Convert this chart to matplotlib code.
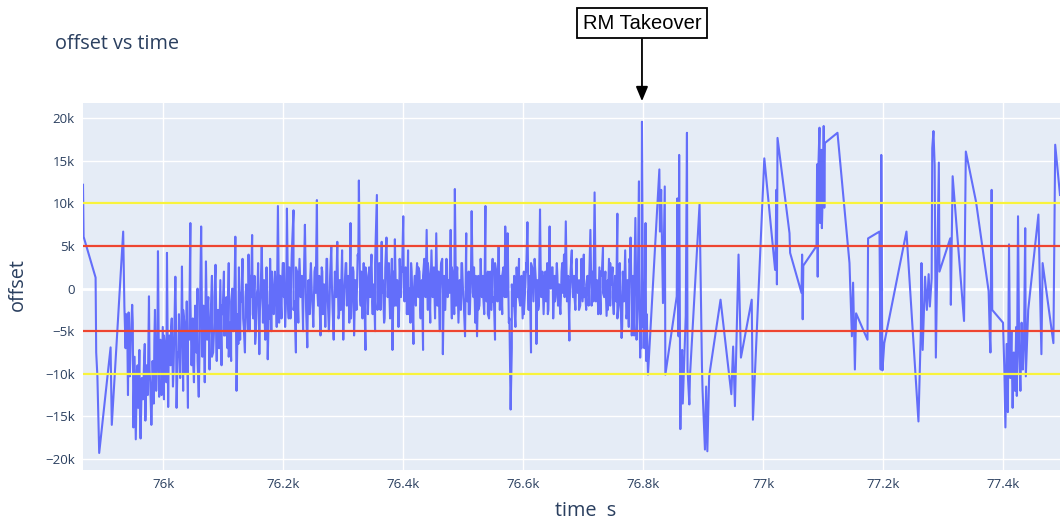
import numpy as np
import matplotlib
matplotlib.use("Agg")
import matplotlib.pyplot as plt
from matplotlib.ticker import FuncFormatter, MultipleLocator

# start of run (sparse)
t_start = [75866, 75867, 75887, 75888, 75890, 75893, 75912, 75914, 75933, 75935]
v_start = [12200, 6100, 1300, -7500, -10300, -19300, -6900, -16000, 6700, -2100]

# dense part before takeover
t_dense = [
    75936, 75938, 75940, 75942, 75944, 75946, 75948, 75950, 75952, 75954,
    75956, 75958, 75960, 75962, 75964, 75966, 75968, 75970, 75972, 75974,
    75976, 75978, 75980, 75982, 75984, 75986, 75988, 75990, 75991, 75993,
    75995, 75997, 75999, 76001, 76003, 76005, 76006, 76008, 76010, 76012,
    76014, 76016, 76018, 76020, 76022, 76024, 76026, 76028, 76030, 76031,
    76033, 76035, 76037, 76039, 76041, 76043, 76045, 76047, 76049, 76051,
    76053, 76055, 76057, 76059, 76061, 76063, 76065, 76067, 76069, 76071,
    76073, 76075, 76077, 76079, 76081, 76083, 76085, 76087, 76089, 76091,
    76093, 76095, 76097, 76099, 76101, 76103, 76105, 76107, 76109, 76111,
    76113, 76115, 76117, 76119, 76120, 76122, 76124, 76126, 76128, 76130,
    76132, 76134, 76136, 76138, 76140, 76142, 76144, 76146, 76148, 76150,
    76152, 76154, 76156, 76158, 76160, 76162, 76164, 76166, 76168, 76170,
    76172, 76174, 76176, 76178, 76180, 76182, 76184, 76186, 76188, 76191,
    76193, 76195, 76197, 76199, 76201, 76203, 76206, 76208, 76210, 76212,
    76214, 76217, 76219, 76221, 76223, 76225, 76227, 76229, 76231, 76233,
    76236, 76238, 76240, 76242, 76244, 76246, 76248, 76250, 76252, 76254,
    76256, 76258, 76260, 76262, 76264, 76266, 76268, 76270, 76272, 76274,
    76276, 76278, 76280, 76282, 76284, 76286, 76288, 76290, 76292, 76294,
    76296, 76298, 76300, 76302, 76304, 76306, 76308, 76310, 76312, 76314,
    76316, 76318, 76320, 76322, 76324, 76326, 76328, 76330, 76332, 76334,
    76337, 76339, 76341, 76343, 76345, 76347, 76349, 76351, 76353, 76356,
    76358, 76360, 76362, 76364, 76366, 76368, 76370, 76372, 76374, 76376,
    76378, 76380, 76382, 76384, 76386, 76388, 76390, 76392, 76394, 76396,
    76398, 76400, 76402, 76404, 76406, 76408, 76410, 76412, 76414, 76417,
    76419, 76421, 76423, 76425, 76427, 76429, 76431, 76433, 76435, 76437,
    76439, 76441, 76443, 76445, 76447, 76449, 76451, 76453, 76455, 76457,
    76459, 76461, 76463, 76466, 76468, 76470, 76472, 76474, 76476, 76479,
    76481, 76483, 76486, 76488, 76490, 76492, 76494, 76496, 76498, 76500,
    76503, 76505, 76507, 76509, 76511, 76514, 76516, 76518, 76520, 76523,
    76525, 76527, 76529, 76531, 76533, 76535, 76537, 76539, 76541, 76543,
    76545, 76547, 76549, 76551, 76553, 76555, 76557, 76559, 76561, 76563,
    76565, 76567, 76570, 76572, 76574, 76576, 76578, 76579, 76581, 76583,
    76585, 76587, 76589, 76591, 76593, 76595, 76597, 76599, 76601, 76603,
    76605, 76607, 76609, 76611, 76613, 76615, 76617, 76619, 76622, 76624,
    76626, 76628, 76630, 76632, 76634, 76636, 76638, 76640, 76642, 76644,
    76646, 76648, 76650, 76652, 76654, 76656, 76658, 76660, 76662, 76664,
    76666, 76668, 76671, 76673, 76675, 76677, 76679, 76681, 76683, 76685,
    76687, 76689, 76691, 76693, 76695, 76697, 76699, 76701, 76703, 76705,
    76707, 76709, 76712, 76714, 76716, 76719, 76721, 76723, 76725, 76727,
    76729, 76731, 76733, 76735, 76737, 76739, 76741, 76743, 76745, 76747,
    76749, 76751, 76753, 76755, 76757, 76759, 76761, 76764, 76766, 76768,
    76770, 76772, 76774, 76776, 76778, 76779, 76781, 76783, 76785, 76787,
    76789, 76791, 76793, 76795, 76796, 76798, 76800, 76802, 76804, 76806,
    76808,
]
v_dense = [
    -4500, -3000, -6200, -2800, -10300, -5200, -1900, -16300, -8000, -17700,
    -9500, -14000, -7200, -17600, -10500, -13000, -8200, -15500, -9000, -12500,
    -900, -11000, -16000, -8500, -13500, -2500, -12000, -7500, 4400, -12700,
    -6000, -10500, -4500, -13000, -7000, -9500, 4200, -13900, -5500, -9000,
    -3500, -11500, -6000, 1400, -14000, -7500, -3000, -10500, -5000, 2600,
    -12000, -4000, -8500, -1500, -14000, -6000, 7700, -9000, -3500, -11000,
    -2000, -7500, 0, -12700, -4500, 7300, -8000, -2000, -10300, 3200,
    -6000, -1000, -9500, -3500, 1500, -7500, -4000, 2800, -8500, -2500,
    -6500, 1000, -9000, -3000, 2000, -5500, -1000, -7000, 3000, -4000,
    -8500, 0, -5000, 1500, 6100, -12000, -3000, 2500, -6000, -1500,
    3500, -4500, -7500, 500, -3000, 4000, -5000, -1000, 6300, -3500,
    1500, -5500, -500, 3000, -7700, -1000, 5000, -4000, 1000, -6000,
    2500, -8300, -2000, 3500, -5000, 500, -3000, 2000, -1500, 9700,
    -4000, 1500, -3500, 3000, -1000, -4500, 9400, -2000, 2500, -3500,
    4000, 9200, -1500, -7500, 2000, -4000, 3500, -1000, 1500, -5000,
    7500, -2500, -6900, 1000, -3000, 3000, -1500, -4500, 2000, -500,
    10400, -2000, 1500, -5500, 2500, -3000, 500, -4500, 3500, -1000,
    -5000, 1500, 5000, -2000, -6000, 2000, -1000, 5500, -3500, 1000,
    -2500, 4500, -6000, 0, 3000, -2000, 1500, -4000, 7700, -1500,
    2500, -5500, 1000, -2500, 4000, 12700, -1000, 2000, -3500, 3000,
    -7200, 1500, -2000, 2500, -1000, 4000, -3000, 500, -5000, 11000,
    -1500, 3000, -2500, 5500, 1000, -4000, 2500, 6000, -1000, 3000,
    -3500, 1500, -7200, 2000, 5800, -2000, 1000, -4500, 3500, -1000,
    2000, 8500, -1500, 2500, -3000, 4500, 0, -4000, 2000, -6500,
    1500, -2000, 3000, -1000, 2000, -3500, 1000, -7200, 3500, -500,
    6900, -2500, 1500, -4000, 4500, -1000, 2500, -3000, 6500, -2000,
    2000, -5000, 3000, -7700, 1500, -2500, 3500, -1000, 1000, 6900,
    -3500, 1500, 11700, -2000, 2500, -4000, 1000, -2500, 3000, -1000,
    -5600, 6500, -1500, 2000, -3000, 9100, -500, 2500, -4000, -5600,
    1500, -2000, 3000, -1000, 1500, -3000, 9700, -1500, 2000, -3500,
    1000, -2500, 3500, -1000, -6000, 2000, -1500, 5000, -2500, 1500,
    -3000, 2500, 7300, -1000, 6500, -4000, -8500, -14200, -7000, -2000,
    1500, -4500, 2500, -1000, 3500, -2000, 1000, -3500, 2000, -500,
    3000, 7800, -2500, 1500, -7500, 2500, -1500, 3500, -6500, 1000,
    -2000, 9300, -1000, 2000, -3000, 1500, -1500, 3000, -2500, 7300,
    0, 2500, -3500, 1500, -1000, 3000, -2000, 500, -3000, 2000,
    -500, 4000, 7900, -1500, 1500, -6100, 2000, 4500, -1000, 1500,
    -2500, 3500, -500, 1000, -2000, 2500, -1500, 4000, 0, -2500,
    1500, -1000, 6900, -2000, 2000, 11300, -1500, 1000, -2500, 2500,
    -3000, 1500, 4800, -1000, 2000, -3200, 1000, 3500, -2000, 500,
    2500, -3000, 1500, -1500, 8800, -2000, 3000, -5800, 2000, -1500,
    4500, -3500, 1000, -4500, 3000, 6000, -3000, 1500, -5500, 8300,
    -3500, -1000, 12600, -8100, -2000, 19600, -4500, -7000, 7700, -3000,
    -10100,
]

# extra in-between samples of the dense band
t_fill = [
    75937, 75941, 75945, 75949, 75953, 75957, 75961, 75965, 75969, 75973,
    75977, 75981, 75985, 75989, 75993, 75997, 76001, 76005, 76009, 76013,
    76017, 76021, 76025, 76029, 76033, 76037, 76041, 76045, 76049, 76053,
    76057, 76061, 76065, 76069, 76073, 76077, 76081, 76085, 76089, 76093,
    76097, 76101, 76105, 76109, 76113, 76117, 76121, 76125, 76129, 76133,
    76137, 76141, 76145, 76149, 76153, 76157, 76161, 76165, 76169, 76173,
    76177, 76181, 76185, 76189, 76193, 76197, 76201, 76205, 76209, 76213,
    76217, 76221, 76225, 76229, 76233, 76237, 76241, 76245, 76249, 76253,
    76257, 76261, 76265, 76269, 76273, 76277, 76281, 76285, 76289, 76293,
    76297, 76301, 76305, 76309, 76313, 76317, 76321, 76325, 76329, 76333,
    76337, 76341, 76345, 76349, 76353, 76357, 76361, 76365, 76369, 76373,
    76377, 76381, 76385, 76389, 76393, 76397, 76401, 76405, 76409, 76413,
    76417, 76421, 76425, 76429, 76433, 76437, 76441, 76445, 76449, 76453,
    76457, 76461, 76465, 76469, 76473, 76477, 76481, 76485, 76489, 76493,
    76497, 76501, 76505, 76509, 76513, 76517, 76521, 76525, 76529, 76533,
    76537, 76541, 76545, 76549, 76553, 76557, 76561, 76565, 76569, 76573,
    76577, 76581, 76585, 76589, 76593, 76597, 76601, 76605, 76609, 76613,
    76617, 76621, 76625, 76629, 76633, 76637, 76641, 76645, 76649, 76653,
    76657, 76661, 76665, 76669, 76673, 76677, 76681, 76685, 76689, 76693,
    76697, 76701, 76705, 76709, 76713, 76717, 76721, 76725, 76729, 76733,
    76737, 76741, 76745, 76749, 76753, 76757, 76761, 76765, 76769, 76773,
    76777, 76781, 76785, 76789, 76793, 76797, 76801, 76805,
]
v_fill = [
    -7000, -12500, -8000, -4000, -13000, -9000, -15000, -11000, -6500, -12000,
    -9500, -13500, -6000, -10000, -8000, -12500, -5500, -11000, -7000, -4500,
    -9500, -3500, -8000, -6000, -2500, -10000, -5000, -1000, -7500, -4500,
    -8500, -3000, -6500, -11000, -2500, -5500, -8000, -1000, -4500, -7000,
    -2000, -5500, -3000, -8000, -1500, -4500, -2500, -6500, -500, -3500,
    -1000, -5000, 1500, -3000, -6500, 0, -2500, 1000, -4000, -500,
    -3500, 2000, -1000, -4500, 1500, -2000, 3000, -500, -3500, 1000,
    -2500, 2500, -1500, 500, -3500, 3000, -1000, 1500, -2500, 2500,
    -500, -3000, 2000, -1500, 3500, -2500, 500, -1000, 2500, -3000,
    1500, -2000, 3000, -500, -3500, 2000, -1000, 3500, -2000, 500,
    2500, -3000, 1000, -1500, 3000, -2500, 1500, -500, -3500, 2000,
    -1000, 3500, -2000, 1000, -2500, 2500, -500, 1500, -3000, 3000,
    -1500, 500, 2500, -2500, 1500, -1000, 3000, -2000, 500, -3500,
    2000, -1000, 3500, -2500, 1000, -500, 2500, -3000, 1500, -1500,
    3000, -2000, 500, -3000, 2500, -1000, 1500, -2500, 3500, -500,
    1000, -3000, 2000, -1500, 3000, -500, -2500, 1500, -1000, 2500,
    -3500, 500, -2000, 2500, -1000, 1500, -3000, 2000, -500, 3000,
    -1500, 1000, -2500, 3000, -500, 2000, -3000, 500, 2500, -1500,
    1500, -2000, 3000, -1000, 500, -3000, 2500, -500, 1500, -2500,
    3500, -1000, 500, -2000, 2500, -1500, 1000, -3000, 2000, -500,
    1500, -2500, 3000, -1000, 500, -3500, 2000, -4500, 1500, -3000,
    3500, -5500, -1000, -6000, 2500, -7000, -2500, -8500,
]

# after takeover (sparser)
t_tail = [
    76827, 76828, 76830, 76833, 76836, 76837, 76856, 76857, 76859, 76860,
    76862, 76863, 76865, 76866, 76868, 76871, 76873, 76874, 76877, 76878,
    76894, 76898, 76899, 76903, 76905, 76907, 76910, 76929, 76947, 76950,
    76953, 76959, 76963, 76981, 76983, 77002, 77020, 77021, 77022, 77023,
    77024, 77044, 77045, 77064, 77065, 77066, 77067, 77089, 77090, 77091,
    77092, 77094, 77095, 77097, 77098, 77100, 77101, 77102, 77103, 77124,
    77144, 77148, 77150, 77153, 77155, 77174, 77175, 77194, 77196, 77197,
    77199, 77202, 77239, 77259, 77263, 77264, 77266, 77270, 77273, 77276,
    77278, 77281, 77282, 77284, 77286, 77288, 77293, 77294, 77312, 77313,
    77316, 77335, 77338, 77355, 77376, 77378, 77379, 77381, 77382, 77400,
    77402, 77404, 77406, 77408, 77410, 77412, 77414, 77416, 77418, 77420,
    77422, 77423, 77425, 77427, 77429, 77431, 77433, 77435, 77437, 77438,
    77440, 77442, 77459, 77464, 77466, 77484, 77487, 77495,
]
v_tail = [
    14000, 6700, 11600, -1700, 12000, -10100, -900, 10600, -5600, 15700,
    -16500, -9500, -7200, -13500, -9500, -3200, 18300, -9500, -13600, -10300,
    9900, -9100, -11900, -18900, -11500, -19100, -10300, -1300, -12400, -6800,
    -13800, 4000, -8100, -1300, -15400, 15300, 2200, 5000, 11600, 500,
    17700, 6500, 4200, -500, 4000, -3600, 2700, 5000, 14600, 1400,
    14000, 18900, 7700, 16300, 7100, 13000, 19100, 9500, 17100, 18300,
    3000, -5600, 700, -9500, -2900, -6000, 5900, 6700, -9500, 15700,
    -9600, -6400, 6700, -15600, -4800, 3000, -7200, 1400, -2500, 1700,
    -2100, 1200, 16500, 18500, 14500, -8100, 14800, 2000, 5900, -1900,
    13200, -3800, 16100, 10200, -300, -5600, -7500, 11600, -2500, -4000,
    -9000, -16300, -6500, -14500, 5200, -10500, -5000, -14000, -7500, -12000,
    -4500, -12600, 8500, -8000, -12000, -4000, -9500, -6000, 7100, -10300,
    -6500, -2500, 8700, -7700, 3000, -6400, 16900, 11000,
]

limits_red = [5000, -5000]
limits_yellow = [10000, -10000]
takeover_t = 76798

t = np.array(t_start + t_dense + t_fill + t_tail)
v = np.array(v_start + v_dense + v_fill + v_tail)
order = np.argsort(t, kind="stable")
t, v = t[order], v[order]

txt = "#2a3f5f"
plt.rcParams['font.family'] = ['Open Sans', 'DejaVu Sans']

fig = plt.figure(figsize=(10.6, 5.21), dpi=100)
ax = fig.add_axes([83 / 1060, 51 / 521, 977 / 1060, 367 / 521])
ax.set_facecolor("#E5ECF6")
for s in ax.spines.values():
    s.set_visible(False)

ax.plot(t, v, color="#636EFA", lw=1.5, zorder=2)
for y in limits_yellow:
    ax.axhline(y, color="#F8F33C", lw=1.6, zorder=3)
for y in limits_red:
    ax.axhline(y, color="#EE4530", lw=1.6, zorder=3)
ax.axhline(0, color="white", lw=2, zorder=1)

ax.set_xlim(t[0], t[-1])
ax.set_ylim(-21300, 21800)
ax.xaxis.set_major_locator(MultipleLocator(200))
ax.yaxis.set_major_locator(MultipleLocator(5000))


def kfmt(x, pos):
    if x == 0:
        return "0"
    return (f"{x / 1000:g}k").replace("-", "\u2212")


ax.xaxis.set_major_formatter(FuncFormatter(kfmt))
ax.yaxis.set_major_formatter(FuncFormatter(kfmt))
ax.grid(color="white", lw=1)
ax.set_axisbelow(True)
ax.tick_params(length=0, labelsize=9.5, labelcolor=txt, pad=6)

fig.text(55 / 1060, 1 - 44 / 521, "offset vs time", fontsize=14.3, color=txt, va="center")
fig.text(586 / 1060, 1 - 511 / 521, "time  s", fontsize=14.3, color=txt, ha="center", va="center")
fig.text(18 / 1060, 1 - 285 / 521, "offset", fontsize=14.3, color=txt, ha="center", va="center", rotation=90)

ax.annotate("RM Takeover", xy=(takeover_t, 1.005), xycoords=("data", "axes fraction"),
            xytext=(0, 56), textcoords="offset points", ha="center", va="center",
            fontsize=14.5, family="Liberation Sans", color="black",
            bbox=dict(boxstyle="square,pad=0.27", fc="white", ec="black", lw=1.3),
            arrowprops=dict(arrowstyle="-|>,head_length=0.6,head_width=0.25", color="black", lw=1.3,
                            shrinkA=0, shrinkB=0),
            annotation_clip=False)

fig.savefig("out.png", dpi=100)
